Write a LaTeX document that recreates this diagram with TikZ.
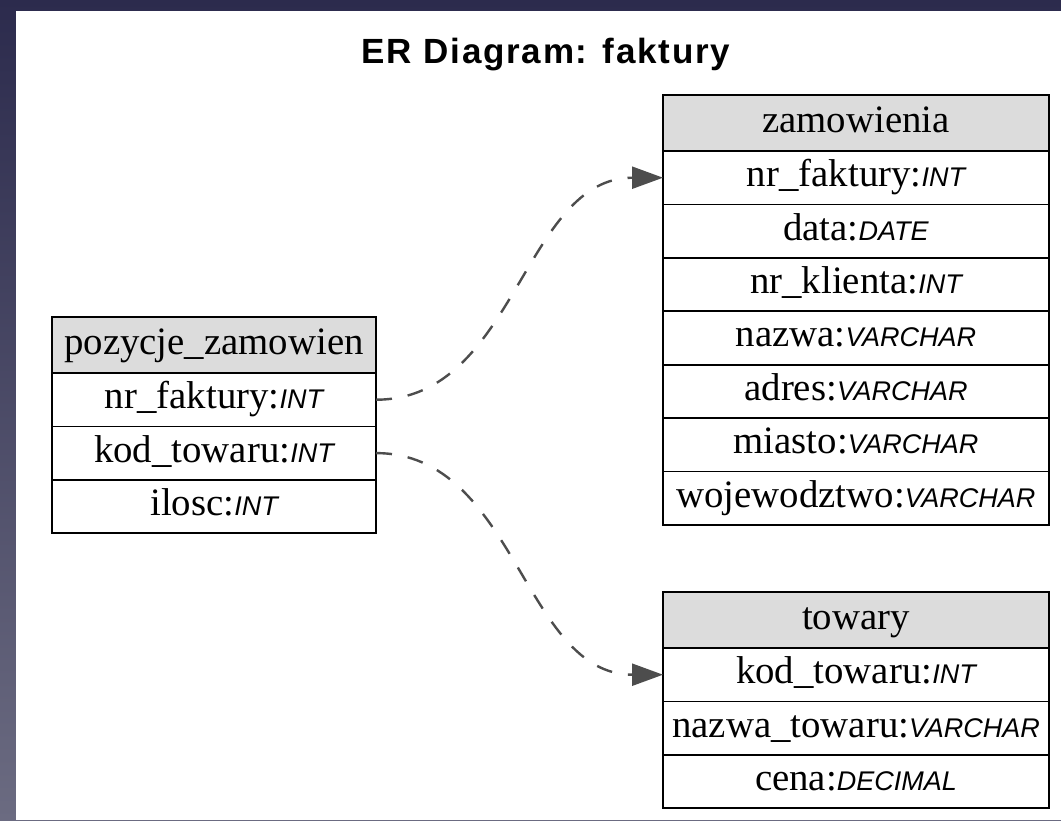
\documentclass[tikz,border=0pt]{standalone}
\usepackage{fontspec}
\setmainfont{Liberation Serif}
\newfontfamily\typefont{Liberation Sans}
\newfontfamily\titlefont{Liberation Sans}[LetterSpace=5]
\usetikzlibrary{positioning,arrows.meta}
\definecolor{hdrgray}{HTML}{DCDCDC}
\definecolor{edgegray}{HTML}{4D4D4D}
\definecolor{bgtop}{HTML}{2C2B4D}
\definecolor{bgbot}{HTML}{6B6B81}
\newcommand{\sqltype}[1]{{\typefont\itshape\fontsize{27}{30}\selectfont #1}}
\begin{document}
\begin{tikzpicture}[x=1pt,y=-1pt,
		every node/.style={inner sep=0pt,outer sep=0pt,font=\fontsize{38.8}{44}\selectfont},
		hdr/.style={draw,line width=1.8pt,fill=hdrgray,minimum height=56pt,text height=27pt,text depth=9pt},
		fld/.style={draw,line width=1.8pt,fill=white,minimum height=53.4pt,text height=27pt,text depth=9pt},
		fk/.style={edgegray,line width=2.4pt,dash pattern=on 16pt off 16pt,-{Triangle[length=31pt,width=22pt]}}]
		\useasboundingbox (0,0) rectangle (1061,820);
		\fill [top color=bgtop,bottom color=bgbot] (0,0) rectangle (1061,820);
		\fill [white] (16,11) rectangle (1061,820);
		\node [font=\titlefont\bfseries\fontsize{35}{40}\selectfont,anchor=base] (title) at (546,63) {ER Diagram: faktury};
		\node [hdr,minimum width=324pt] (pz) at (214,345) {pozycje\_zamowien};
		\node [fld,minimum width=324pt,below=0pt of pz] (pznr) {nr\_faktury:\sqltype{INT}};
		\node [fld,minimum width=324pt,below=0pt of pznr] (pzkod) {kod\_towaru:\sqltype{INT}};
		\node [fld,minimum width=324pt,below=0pt of pzkod] (pzil) {ilosc:\sqltype{INT}};
		\node [hdr,minimum width=386pt] (zam) at (856,123) {zamowienia};
		\node [fld,minimum width=386pt,below=0pt of zam] (zamnr) {nr\_faktury:\sqltype{INT}};
		\node [fld,minimum width=386pt,below=0pt of zamnr] (zamdata) {data:\sqltype{DATE}};
		\node [fld,minimum width=386pt,below=0pt of zamdata] (zamkl) {nr\_klienta:\sqltype{INT}};
		\node [fld,minimum width=386pt,below=0pt of zamkl] (zamnaz) {nazwa:\sqltype{VARCHAR}};
		\node [fld,minimum width=386pt,below=0pt of zamnaz] (zamadr) {adres:\sqltype{VARCHAR}};
		\node [fld,minimum width=386pt,below=0pt of zamadr] (zammia) {miasto:\sqltype{VARCHAR}};
		\node [fld,minimum width=386pt,below=0pt of zammia] (zamwoj) {wojewodztwo:\sqltype{VARCHAR}};
		\node [hdr,minimum width=386pt] (tow) at (856,620) {towary};
		\node [fld,minimum width=386pt,below=0pt of tow] (towkod) {kod\_towaru:\sqltype{INT}};
		\node [fld,minimum width=386pt,below=0pt of towkod] (townaz) {nazwa\_towaru:\sqltype{VARCHAR}};
		\node [fld,minimum width=386pt,below=0pt of townaz] (towcena) {cena:\sqltype{DECIMAL}};
		\draw [fk] (pznr.east) .. controls +(140,0) and +(-140,0) .. (zamnr.west);
		\draw [fk] (pzkod.east) .. controls +(140,0) and +(-140,0) .. (towkod.west);
	\end{tikzpicture}
\end{document}
